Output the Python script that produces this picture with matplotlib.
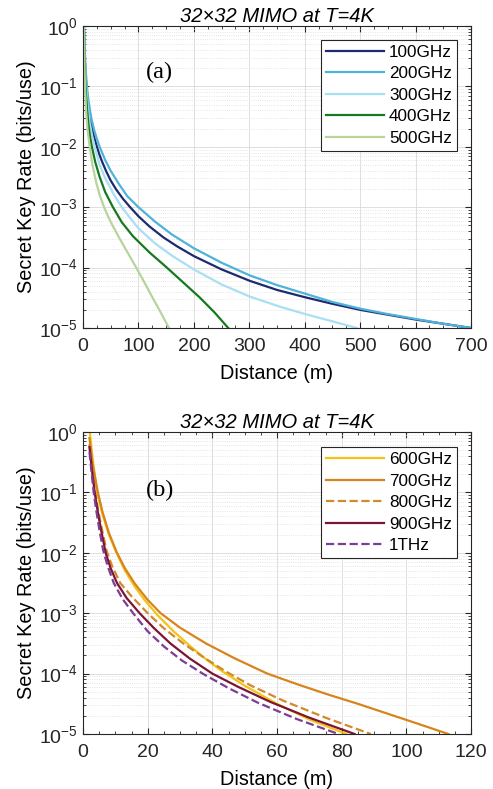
import matplotlib.pyplot as plt
import numpy as np
from matplotlib.ticker import LogLocator, MultipleLocator, NullFormatter

plt.rcParams['font.family'] = ['Liberation Sans', 'DejaVu Sans']
plt.rcParams['mathtext.fontset'] = 'custom'
plt.rcParams['mathtext.rm'] = 'Liberation Sans'

# panel (a): distance (m) and log10 of secret key rate
d_100 = [1.5, 3, 4.5, 6, 8, 10, 12.5, 15, 20, 25, 30, 35, 42, 50, 60, 72, 85, 100, 120, 145,
         170, 200, 250, 301, 350, 400, 450, 500, 550, 600, 650, 700]
r_100 = [0.05, -0.5, -0.8, -1.0, -1.2, -1.36, -1.52, -1.64, -1.84, -2.0, -2.14, -2.26, -2.41,
         -2.56, -2.71, -2.86, -3.0, -3.15, -3.32, -3.5, -3.65, -3.81, -4.03, -4.22, -4.37,
         -4.49, -4.6, -4.7, -4.78, -4.86, -4.93, -5.0]
d_200 = [1.5, 3, 5, 7, 10, 15, 20, 25, 30, 40, 50, 65, 80, 100, 130, 160, 200, 250, 301, 350,
         400, 450, 500, 550, 600, 650, 700]
r_200 = [0.05, -0.4, -0.75, -1.0, -1.25, -1.53, -1.72, -1.87, -2.0, -2.22, -2.4, -2.62, -2.82,
         -3.0, -3.24, -3.45, -3.68, -3.92, -4.13, -4.29, -4.43, -4.57, -4.68, -4.77, -4.85,
         -4.93, -5.0]
d_300 = [1.5, 3, 4, 5.5, 8, 12, 16, 21, 30, 40, 55, 70, 85, 100, 130, 160, 200, 250, 301, 356,
         401, 450, 494]
r_300 = [0.05, -0.55, -0.8, -1.0, -1.3, -1.6, -1.8, -2.0, -2.3, -2.52, -2.78, -3.0, -3.18,
         -3.35, -3.6, -3.8, -4.03, -4.28, -4.48, -4.65, -4.77, -4.89, -5.0]
d_400 = [1.5, 2.5, 4.5, 7, 10, 13, 16, 22, 30, 40, 54, 70, 90, 120, 150, 180, 210, 237, 262]
r_400 = [0.05, -0.5, -1.0, -1.35, -1.65, -1.85, -2.0, -2.25, -2.5, -2.75, -3.0, -3.25, -3.48,
         -3.75, -3.99, -4.24, -4.49, -4.74, -5.0]
d_500 = [1.5, 2.2, 3.5, 5.5, 8, 12, 17, 24, 30, 38, 45, 52, 66, 81, 96, 111, 125, 140, 155]
r_500 = [0.05, -0.5, -1.0, -1.4, -1.7, -2.0, -2.3, -2.6, -2.8, -3.0, -3.15, -3.28, -3.52,
         -3.76, -4.0, -4.25, -4.49, -4.74, -5.0]

# panel (b)
d_600 = [2, 3, 4.4, 6, 8, 10, 13, 16, 19, 23, 28, 33, 38, 43, 50, 60, 70, 81.5]
r_600 = [0.05, -0.45, -1.0, -1.36, -1.7, -1.96, -2.3, -2.56, -2.78, -3.03, -3.3, -3.54, -3.76,
         -3.96, -4.2, -4.5, -4.76, -5.0]
d_700 = [2, 3, 4.6, 6, 8, 10.5, 13, 16, 20, 24, 30, 38, 47, 57, 67, 76, 85, 94, 103, 113]
r_700 = [-0.1, -0.55, -1.0, -1.32, -1.67, -2.0, -2.26, -2.51, -2.78, -3.0, -3.24, -3.5, -3.75,
         -4.0, -4.19, -4.35, -4.5, -4.66, -4.82, -5.0]
d_800 = [2, 2.8, 3.8, 4.7, 5.8, 7.3, 9, 11.5, 15, 20, 25, 31, 37, 44, 52, 62, 75, 89]
r_800 = [-0.2, -0.6, -1.0, -1.3, -1.6, -1.97, -2.22, -2.5, -2.72, -3.0, -3.25, -3.5, -3.72,
         -3.96, -4.2, -4.45, -4.73, -5.0]
d_900 = [2, 2.7, 3.6, 4.5, 5.5, 7, 8.5, 10.5, 13.5, 17.5, 22, 27, 33, 40, 48, 58, 70, 84]
r_900 = [-0.25, -0.6, -1.0, -1.3, -1.6, -2.0, -2.25, -2.5, -2.75, -3.0, -3.25, -3.5, -3.75,
         -4.0, -4.22, -4.47, -4.73, -5.0]
d_1t = [2, 2.5, 3.3, 4.1, 5, 6.2, 7.5, 9.5, 12.3, 15.5, 20, 25, 30.5, 37, 45, 54, 66, 79]
r_1t = [-0.33, -0.6, -1.0, -1.3, -1.6, -1.95, -2.2, -2.5, -2.77, -3.0, -3.3, -3.55, -3.78,
        -4.0, -4.24, -4.48, -4.75, -5.0]

fig = plt.figure(figsize=(4.93, 7.89), dpi=100)
ax1 = fig.add_axes([0.1684, 0.5843, 0.787, 0.3828])
ax2 = fig.add_axes([0.1684, 0.0697, 0.787, 0.3828])

series_a = [(d_100, r_100, '#1d2a6e', '-', '100GHz'),
            (d_200, r_200, '#4fb2d8', '-', '200GHz'),
            (d_300, r_300, '#a9dff2', '-', '300GHz'),
            (d_400, r_400, '#16791f', '-', '400GHz'),
            (d_500, r_500, '#b8d39c', '-', '500GHz')]
series_b = [(d_600, r_600, '#f4c415', '-', '600GHz'),
            (d_700, r_700, '#d8841c', '-', '700GHz'),
            (d_800, r_800, '#d08a2a', '--', '800GHz'),
            (d_900, r_900, '#7c1434', '-', '900GHz'),
            (d_1t, r_1t, '#7d3d92', '--', '1THz')]

for ax, series, xmax, xmaj, xmin, tag, tag_y, leg_y in [
        (ax1, series_a, 700, 100, 25, '(a)', 0.845, 0.954),
        (ax2, series_b, 120, 20, 5, '(b)', 0.808, 0.950)]:
    for d, r, c, ls, lab in series:
        ax.semilogy(d, 10.0 ** np.array(r), color=c, linestyle=ls, linewidth=1.6, label=lab)
    ax.set_xlim(0, xmax)
    ax.set_ylim(1e-5, 1)
    ax.xaxis.set_major_locator(MultipleLocator(xmaj))
    ax.xaxis.set_minor_locator(MultipleLocator(xmin))
    ax.yaxis.set_major_locator(LogLocator(base=10, numticks=10))
    ax.yaxis.set_minor_locator(LogLocator(base=10, subs=np.arange(2, 10), numticks=10))
    ax.yaxis.set_minor_formatter(NullFormatter())
    ax.tick_params(which='both', direction='in', top=True, right=True, labelsize=14,
                   colors='#262626')
    ax.tick_params(axis='x', which='major', pad=7.5)
    ax.tick_params(which='major', length=4)
    ax.tick_params(which='minor', length=2)
    ax.grid(which='major', color='#d9d9d9', linestyle='-', linewidth=0.6)
    ax.grid(which='minor', axis='y', color='#dedede', linestyle=':', linewidth=0.6)
    for s in ax.spines.values():
        s.set_color('#262626')
        s.set_linewidth(0.8)
    ax.set_xlabel('Distance (m)', fontsize=14.3, labelpad=6)
    ax.set_ylabel('Secret Key Rate (bits/use)', fontsize=14.3, labelpad=2)
    ax.set_title('32\u00d732 MIMO at T=4K', fontsize=14.5, style='italic', pad=2)
    ax.text(0.198, tag_y, tag, transform=ax.transAxes, fontsize=17.5,
            family='Liberation Serif', ha='center', va='center')
    leg = ax.legend(loc='upper right', bbox_to_anchor=(0.964, leg_y), borderaxespad=0,
                    fontsize=12.3, handlelength=3.4, fancybox=False, framealpha=1,
                    borderpad=0.3, labelspacing=0.38, handletextpad=0.3)
    leg.get_frame().set_edgecolor('#262626')
    leg.get_frame().set_linewidth(0.8)

fig.savefig('out.png', dpi=100)
